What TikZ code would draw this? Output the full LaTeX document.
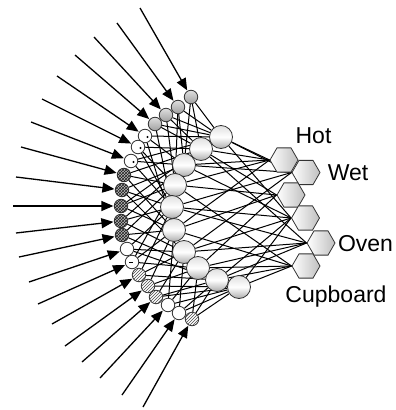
\documentclass[tikz,border=0pt]{standalone}
\usepackage{fontspec}
\setmainfont{Liberation Sans}
\usetikzlibrary{arrows.meta,shapes.geometric,patterns,backgrounds}
\begin{document}
\begin{tikzpicture}[x=1pt,y=-1pt,
  inp/.style={circle,draw=black!80,line width=0.8pt,minimum size=13.5pt,inner sep=0pt},
  grayin/.style={inp,top color=gray!25,bottom color=gray!75},
  whitein/.style={inp,fill=white},
  chkin/.style={inp,fill=gray!55,postaction={pattern=crosshatch,pattern color=gray!25!black}},
  hatin/.style={inp,fill=white,postaction={pattern=north east lines,pattern color=gray!60!black}},
  hid/.style={circle,draw=black!80,line width=0.8pt,minimum size=23pt,inner sep=0pt,
    top color=gray!25,bottom color=gray!65,middle color=white},
  outp/.style={regular polygon,regular polygon sides=6,minimum size=28pt,inner sep=0pt,
    draw=black!80,line width=0.8pt,shading angle=120,left color=white,right color=gray!50},
  conn/.style={line width=1pt,black},
  arr/.style={line width=1.3pt,-{Triangle[length=12pt,width=10pt]},shorten >=0.5pt},
  lab/.style={anchor=base,inner sep=0pt,font=\fontsize{23}{27}\selectfont}
]
\useasboundingbox (0,0) rectangle (396,410);

% input layer
\node[grayin]  (i1)  at (191,97) {};
\node[grayin]  (i2)  at (178,107) {};
\node[grayin]  (i3)  at (166,115) {};
\node[grayin]  (i4)  at (155,124) {};
\node[whitein] (i5)  at (145,136) {};
\node[whitein] (i6)  at (138,147) {};
\node[whitein] (i7)  at (131,161) {};
\node[chkin]   (i8)  at (124,175) {};
\node[chkin]   (i9)  at (122,190) {};
\node[chkin]   (i10) at (121,206) {};
\node[chkin]   (i11) at (121,221) {};
\node[chkin]   (i12) at (122,235) {};
\node[whitein] (i13) at (127,249) {};
\node[whitein] (i14) at (132,262) {};
\node[hatin]   (i15) at (139,275) {};
\node[hatin]   (i16) at (148,286) {};
\node[hatin]   (i17) at (156,297) {};
\node[whitein] (i18) at (168,305) {};
\node[whitein] (i19) at (179,313) {};
\node[hatin]   (i20) at (192,319) {};

\foreach \n in {5,6,7} {\fill ([shift={(2.5,1)}]i\n.center) circle (1.1);}
\draw[line width=0.8pt] ([shift={(-3,0)}]i14.center) -- ([shift={(1,0)}]i14.center);

% hidden layer
\node[hid] (h1)  at (221,137) {};
\node[hid] (h2)  at (201,149) {};
\node[hid] (h3)  at (184,165) {};
\node[hid] (h4)  at (175,185) {};
\node[hid] (h5)  at (172,207) {};
\node[hid] (h6)  at (174,230) {};
\node[hid] (h7)  at (184,252) {};
\node[hid] (h8)  at (198,268) {};
\node[hid] (h9)  at (217,280) {};
\node[hid] (h10) at (239,287) {};

% output layer
\node[outp] (o1) at (284,160) {};
\node[outp] (o2) at (306,172.5) {};
\node[outp] (o3) at (291,195) {};
\node[outp] (o4) at (305.5,218) {};
\node[outp] (o5) at (321,243) {};
\node[outp] (o6) at (306,266) {};

% labels
\node[lab] (lhot) at (313.5,143) {Hot};
\node[lab] (lwet) at (348,180) {Wet};
\node[lab] (loven) at (365.5,251) {Oven};
\node[lab] (lcup) at (336,302) {Cupboard};

% connections
\begin{scope}[on background layer]
\foreach \i/\hs in {1/{1,2,3},2/{1,3,4},3/{1,2,4},4/{1,2,5},5/{1,3,6},6/{2,4,5},
  7/{1,3,5},8/{2,4,6},9/{3,5,7},10/{2,4,6},11/{3,5,7},12/{4,6,8},13/{5,7,9},
  14/{4,6,8},15/{5,7,9},16/{6,8,10},17/{7,9,10},18/{6,8,10},19/{7,9,10},20/{8,9,10}}
  {\foreach \h in \hs {\draw[conn] (i\i) -- (h\h);}}
\foreach \h/\os in {1/{1,2,4},2/{1,3,5},3/{1,2,4},4/{1,3,6},5/{2,4,5},6/{1,3,6},
  7/{2,4,5},8/{3,5,6},9/{4,5,6},10/{4,6}}
  {\foreach \o in \os {\draw[conn] (h\h) -- (o\o.west);}}
\end{scope}

% input arrows
\foreach \n/\x/\y in {1/140/8,2/117/23,3/94/37,4/75/55,5/57/76,6/42/99,7/31/122,
  8/21/147,9/16/177,10/13/206,11/16/233,12/19/257,13/29/282,14/38/304,15/52/324,
  16/65/346,17/82/362,18/100/378,19/122/395,20/143/407}
  {\coordinate (s\n) at (\x,\y); \draw[arr] (s\n) -- (i\n);}
\end{tikzpicture}
\end{document}
